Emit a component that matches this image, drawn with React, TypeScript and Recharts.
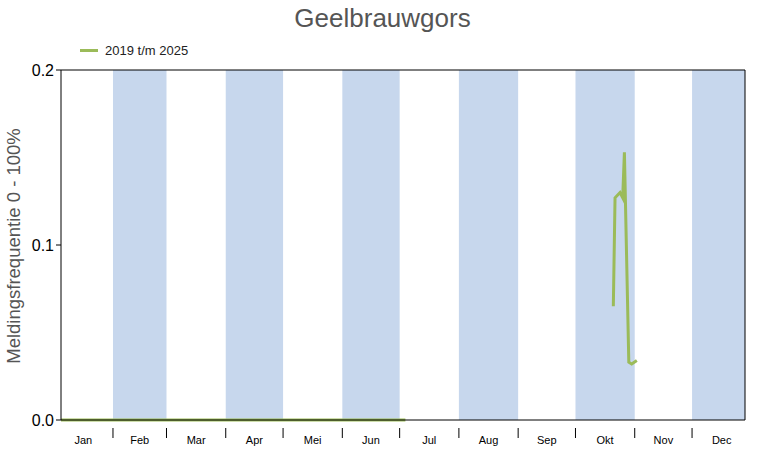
import React from "react";
import {
  LineChart,
  Line,
  XAxis,
  YAxis,
  ReferenceArea,
  ReferenceLine,
} from "recharts";

// day of year -> meldingsfrequentie
const days = [4.8, 185, 240, 293.8, 294.7, 297.3, 298.7, 299.6, 301.9, 303.4, 306.1];
const freq = [0, 0, null, 0.065, 0.127, 0.13, 0.127, 0.153, 0.033, 0.032, 0.034];

const monthNames = ["Jan", "Feb", "Mar", "Apr", "Mei", "Jun", "Jul", "Aug", "Sep", "Okt", "Nov", "Dec"];
const monthStarts = [32, 60, 91, 121, 152, 182, 213, 244, 274, 305, 335];
const monthMids = [16.5, 46, 75.5, 106, 136.5, 167, 197.5, 228.5, 259, 289.5, 320, 350.5];
const shadedMonths = [
  [32, 60],
  [91, 121],
  [152, 182],
  [213, 244],
  [274, 305],
  [335, 362.7],
];
const yTicks = [0, 0.1, 0.2];

const X_MIN = 4.8;
const X_MAX = 362.7;
const GREEN = "#9bbb59";

const chartData = days.map((d, i) => ({ day: d, freq: freq[i] }));
const xTicks = [...monthStarts, ...monthMids].sort((a, b) => a - b);

const font = "'Liberation Sans', Arial, sans-serif";

// month boundaries get a tick mark, month middles get the name
const MonthTick = (props: any) => {
  const { x, y, payload } = props;
  const v = payload.value;
  const mi = monthMids.indexOf(v);
  if (mi < 0) {
    return <line x1={x} x2={x} y1={y} y2={y + 10} stroke="#000" />;
  }
  return (
    <text x={x} y={y + 16} textAnchor="middle" fontSize={11} fill="#000" fontFamily={font}>
      {monthNames[mi]}
    </text>
  );
};

export default function App() {
  return (
    <div style={{ position: "absolute", left: 0, top: 0, width: 765, height: 450, fontFamily: font }}>
      <div
        style={{
          position: "absolute",
          top: 3,
          left: 0,
          width: 765,
          textAlign: "center",
          fontSize: 26,
          color: "#555",
        }}
      >
        Geelbrauwgors
      </div>
      <div
        style={{
          position: "absolute",
          left: 14,
          top: 246,
          transform: "translate(-50%, -50%) rotate(-90deg)",
          whiteSpace: "nowrap",
          fontSize: 18.5,
          color: "#555",
        }}
      >
        Meldingsfrequentie 0 - 100%
      </div>
      <div
        style={{
          position: "absolute",
          left: 80,
          top: 43,
          display: "flex",
          alignItems: "center",
          fontSize: 13,
          color: "#222",
        }}
      >
        <span style={{ display: "inline-block", width: 18, height: 3, background: GREEN, marginRight: 7 }} />
        2019 t/m 2025
      </div>
      <LineChart
        width={765}
        height={450}
        data={chartData}
        margin={{ top: 70, right: 20, bottom: 0, left: 21 }}
      >
        {shadedMonths.map((m, i) => (
          <ReferenceArea key={i} x1={m[0]} x2={m[1]} y1={0} y2={0.2} fill="#c7d7ed" fillOpacity={1} stroke="none" />
        ))}
        <XAxis
          dataKey="day"
          type="number"
          domain={[X_MIN, X_MAX]}
          ticks={xTicks}
          interval={0}
          tick={<MonthTick />}
          tickLine={false}
          height={30}
          stroke="#000"
          allowDataOverflow
        />
        <YAxis
          type="number"
          domain={[0, 0.2]}
          ticks={yTicks}
          tickFormatter={(v: number) => v.toFixed(1)}
          tickSize={5}
          width={40}
          stroke="#000"
          tick={{ fontSize: 16, fill: "#000" }}
        />
        <ReferenceLine y={0.2} stroke="#000" />
        <ReferenceLine x={X_MAX} stroke="#000" />
        <Line
          type="linear"
          dataKey="freq"
          stroke={GREEN}
          strokeWidth={3}
          dot={false}
          isAnimationActive={false}
        />
      </LineChart>
    </div>
  );
}
